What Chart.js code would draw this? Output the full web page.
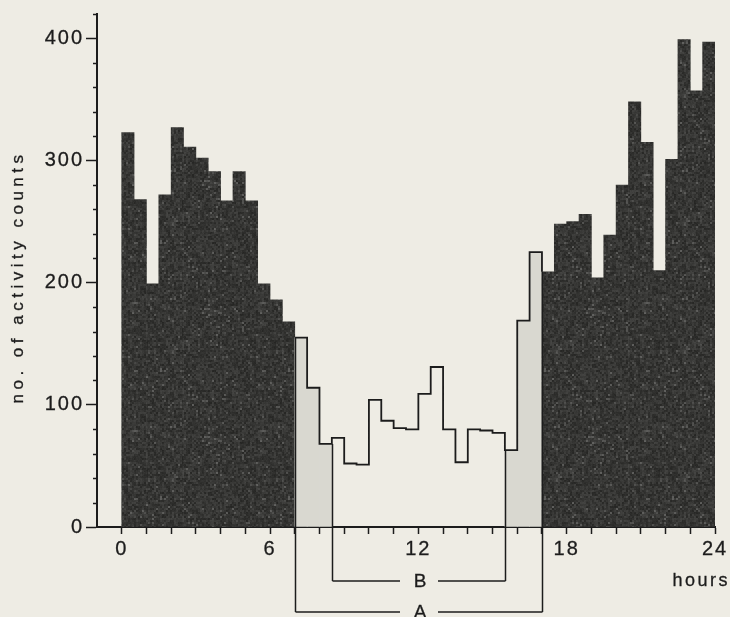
<!DOCTYPE html>
<html>
<head>
<meta charset="utf-8">
<script src="https://cdn.jsdelivr.net/npm/chart.js@4.4.1/dist/chart.umd.min.js"></script>
<style>
html, body { margin: 0; padding: 0; background: #eeece4; }
canvas { display: block; }
</style>
</head>
<body>
<canvas id="activityChart" width="730" height="617"></canvas>
<script>
// start hour of each half-hour bin
const binHours = [0, 0.5, 1, 1.5, 2, 2.5, 3, 3.5, 4, 4.5, 5, 5.5, 6, 6.5,
                  7, 7.5, 8, 8.5, 9, 9.5, 10, 10.5, 11, 11.5, 12, 12.5, 13, 13.5,
                  14, 14.5, 15, 15.5, 16, 16.5, 17, 17.5, 18, 18.5, 19, 19.5, 20, 20.5,
                  21, 21.5, 22, 22.5, 23, 23.5];
const activityCounts = [323, 268, 199, 272, 327, 311, 302, 291, 267, 291, 267, 199, 186, 168,
                        155, 114, 68, 73, 52, 51, 104, 87, 81, 80, 109, 131, 80, 53,
                        80, 79, 77, 63, 169, 225, 209, 248, 250, 256, 204, 239, 280, 348,
                        315, 210, 301, 399, 357, 397];
// light regime over the day
const phaseEdges = [0, 7, 8.5, 15.5, 17, 24];
const phaseNames = ['dark', 'dim', 'light', 'dim', 'dark'];
// brackets below the axis
const bracketLabels = ['B', 'A'];
const bracketFrom = [8.5, 7];
const bracketTo = [15.5, 17];
// labelled ticks
const xLabelHours = [0, 6, 12, 18, 24];
const yLabelValues = [0, 100, 200, 300, 400];

const ink = '#1c1c1c';
const fontFam = '"Liberation Sans", Arial, sans-serif';

function phaseOf(h) {
    for (let k = 0; k < phaseNames.length; k++) {
        if (h >= phaseEdges[k] && h < phaseEdges[k + 1]) return phaseNames[k];
    }
    return 'dark';
}

// mottled print texture for the dark bars
function darkTexture(ctx) {
    const n = 128;
    const c = document.createElement('canvas');
    c.width = n; c.height = n;
    const g = c.getContext('2d');
    const img = g.createImageData(n, n);
    let seed = 12345;
    const rnd = () => { seed = (seed * 16807) % 2147483647; return seed / 2147483647; };
    // coarse grain: 2x2 cells plus a fine jitter
    const cells = [];
    for (let i = 0; i < (n / 2) * (n / 2); i++) {
        let v = 36 + rnd() * 26;
        if (rnd() < 0.06) v += 30;
        cells.push(v);
    }
    for (let yy = 0; yy < n; yy++) {
        for (let xx = 0; xx < n; xx++) {
            const v = cells[(yy >> 1) * (n / 2) + (xx >> 1)] + rnd() * 8;
            const i = (yy * n + xx) * 4;
            img.data[i] = v;
            img.data[i + 1] = v;
            img.data[i + 2] = v - 2;
            img.data[i + 3] = 255;
        }
    }
    g.putImageData(img, 0, 0);
    return ctx.createPattern(c, 'repeat');
}

const ctx = document.getElementById('activityChart').getContext('2d');
const darkFill = darkTexture(ctx);

const barColors = binHours.map(h => {
    const p = phaseOf(h);
    if (p === 'dark') return darkFill;
    if (p === 'dim') return '#d9d8d0';
    return 'rgba(0,0,0,0)';
});

// step outline over the lit part of the day
const outline = [];
let lastLit = -1;
binHours.forEach((h, i) => {
    if (phaseOf(h) !== 'dark') { outline.push({x: h, y: activityCounts[i]}); lastLit = i; }
});
outline.push({x: binHours[lastLit + 1], y: activityCounts[lastLit + 1]});

function line(c, x1, y1, x2, y2) {
    c.beginPath(); c.moveTo(x1, y1); c.lineTo(x2, y2); c.stroke();
}

function inkText(c, txt, x, y) {
    c.lineWidth = 0.3;
    c.strokeText(txt, x, y);
    c.fillText(txt, x, y);
}

const decorations = {
    id: 'decorations',
    beforeDraw(chart) { chart.ctx.letterSpacing = '2px'; },
    afterDraw(chart) {
        const c = chart.ctx;
        const x = chart.scales.x, y = chart.scales.y;
        c.save();
        c.strokeStyle = ink;
        c.fillStyle = ink;

        // short minor ticks on the count axis
        c.lineWidth = 1.5;
        y.ticks.forEach(t => {
            if (!yLabelValues.includes(t.value)) {
                const py = Math.round(y.getPixelForValue(t.value)) + 0.5;
                line(c, y.right - 4, py, y.right + 1, py);
            }
        });

        // brackets A and B
        c.font = '19px ' + fontFam;
        c.letterSpacing = '0px';
        c.textAlign = 'center';
        c.textBaseline = 'middle';
        bracketLabels.forEach((lab, k) => {
            const level = y.bottom + 54 + 31 * k;
            const ends = [bracketFrom[k], bracketTo[k]];
            const px = ends.map(e => Math.round(x.getPixelForValue(e)) + 0.5);
            c.lineWidth = 1.5;
            ends.forEach((e, j) => {
                const l = binHours.indexOf(e - 0.5), r = binHours.indexOf(e);
                const top = Math.min(activityCounts[l], activityCounts[r]);
                line(c, px[j], y.getPixelForValue(top), px[j], level);
            });
            const mid = (px[0] + px[1]) / 2;
            line(c, px[0], level, mid - 19, level);
            line(c, mid + 19, level, px[1], level);
            inkText(c, lab, mid + 1, level + 1);
        });

        // axis titles
        c.font = '18px ' + fontFam;
        c.letterSpacing = '2.5px';
        c.textAlign = 'right';
        inkText(c, 'hours', 730, 581);

        c.font = '17px ' + fontFam;
        c.letterSpacing = '4.5px';
        c.translate(18, 277);
        c.rotate(-Math.PI / 2);
        c.textAlign = 'center';
        inkText(c, 'no. of activity counts', 0, 0);
        c.restore();
        c.letterSpacing = '0px';
    }
};

new Chart(ctx, {
    type: 'bar',
    data: {
        datasets: [
            {
                type: 'line',
                data: outline,
                borderColor: ink,
                borderWidth: 1.8,
                pointRadius: 0,
                stepped: 'before',
                fill: false,
                order: 0
            },
            {
                data: binHours.map((h, i) => ({x: h + 0.25, y: activityCounts[i]})),
                backgroundColor: barColors,
                borderWidth: 0,
                barPercentage: 1,
                categoryPercentage: 1,
                order: 1
            }
        ]
    },
    options: {
        responsive: false,
        animation: false,
        layout: { padding: { left: 0, right: 15, top: 11, bottom: 0 } },
        plugins: {
            legend: { display: false },
            tooltip: { enabled: false },
            title: { display: false }
        },
        scales: {
            x: {
                type: 'linear',
                min: -1,
                max: 24,
                offset: false,
                afterBuildTicks: s => { s.ticks = s.ticks.filter(t => t.value >= 0); },
                afterFit: s => { s.height = 90; },
                grid: { drawOnChartArea: false, offset: false, tickLength: 7, tickColor: ink, tickWidth: 1.5 },
                border: { color: ink, width: 2 },
                ticks: {
                    stepSize: 1,
                    autoSkip: false,
                    maxRotation: 0,
                    padding: 3,
                    color: ink,
                    textStrokeColor: ink,
                    textStrokeWidth: 0.3,
                    font: { size: 20, family: fontFam },
                    callback: v => xLabelHours.includes(v) ? String(v) : ''
                }
            },
            y: {
                min: 0,
                max: 420,
                afterFit: s => { s.width = 97; },
                grid: {
                    drawOnChartArea: false,
                    tickLength: 11,
                    tickWidth: 1.5,
                    tickColor: c => yLabelValues.includes(c.tick.value) ? ink : 'rgba(0,0,0,0)'
                },
                border: { color: ink, width: 2 },
                ticks: {
                    stepSize: 20,
                    autoSkip: false,
                    padding: 2,
                    color: ink,
                    textStrokeColor: ink,
                    textStrokeWidth: 0.3,
                    font: { size: 20, family: fontFam },
                    callback: v => yLabelValues.includes(v) ? String(v) : ''
                }
            }
        }
    },
    plugins: [decorations]
});
</script>
</body>
</html>
